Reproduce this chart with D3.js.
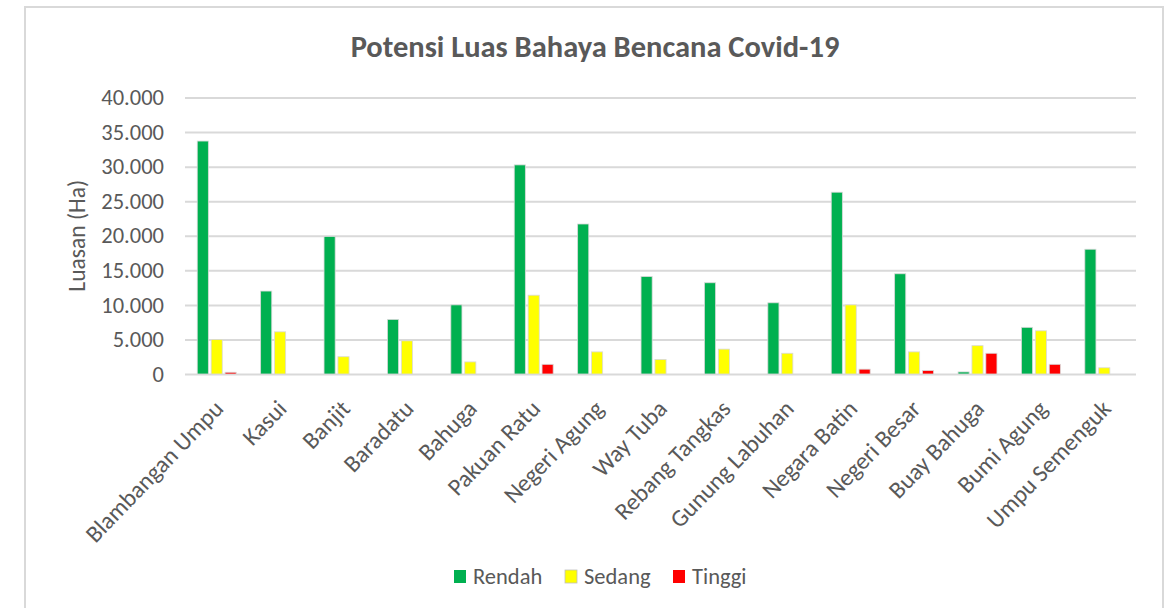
<!DOCTYPE html>
<html>
<head>
<meta charset="utf-8">
<script src="https://cdn.jsdelivr.net/npm/d3@7"></script>
<style>
  html, body { margin: 0; padding: 0; background: #ffffff; }
  svg { display: block; }
  text { font-family: Carlito, "Liberation Sans", Arial, sans-serif; fill: #595959; }
</style>
</head>
<body>
<svg id="chart" width="1170" height="608"></svg>
<script>
// Kecamatan (districts)
const categories = [
  "Blambangan Umpu", "Kasui", "Banjit", "Baradatu", "Bahuga", "Pakuan Ratu",
  "Negeri Agung", "Way Tuba", "Rebang Tangkas", "Gunung Labuhan", "Negara Batin",
  "Negeri Besar", "Buay Bahuga", "Bumi Agung", "Umpu Semenguk"
];

// Area per hazard class, in hectares
const rendah = [33700, 12000, 19900, 7900, 10000, 30250, 21700, 14100, 13200, 10300, 26300, 14500, 300, 6750, 18050];
const sedang = [5000, 6100, 2500, 4800, 1750, 11400, 3200, 2100, 3600, 3000, 10000, 3200, 4100, 6250, 900];
const tinggi = [250, 0, 0, 0, 0, 1400, 0, 0, 0, 0, 700, 500, 3000, 1400, 0];

const seriesNames = ["Rendah", "Sedang", "Tinggi"];
const seriesValues = [rendah, sedang, tinggi];
const seriesColors = ["#00B050", "#FFFF00", "#FF0000"];

const yTicks = [0, 5000, 10000, 15000, 20000, 25000, 30000, 35000, 40000];
const yTickLabels = ["0", "5.000", "10.000", "15.000", "20.000", "25.000", "30.000", "35.000", "40.000"];

const FONT = 'Carlito, "Liberation Sans", Arial, sans-serif';

const svg = d3.select("#chart");
const W = 1170, H = 608;
const plot = { left: 185, right: 1136, top: 97.5, bottom: 374 };

// chart area border
svg.append("path")
  .attr("d", `M25,${H + 2} L25,7 L1163,7 L1163,${H + 2}`)
  .attr("fill", "#ffffff")
  .attr("stroke", "#d9d9d9")
  .attr("stroke-width", 2);

// title
svg.append("text")
  .attr("x", 595)
  .attr("y", 57)
  .attr("text-anchor", "middle")
  .style("font-size", "30.5px")
  .style("font-weight", "bold")
  .text("Potensi Luas Bahaya Bencana Covid-19");

const x0 = d3.scaleBand().domain(categories).range([plot.left, plot.right]).paddingInner(0).paddingOuter(0);
const x1 = d3.scaleBand().domain(seriesNames).range([0, x0.bandwidth()]).paddingInner(0.2).paddingOuter(0.88);
const y = d3.scaleLinear().domain([0, 40000]).range([plot.bottom, plot.top]);

// gridlines
const grid = svg.append("g")
  .attr("transform", `translate(${plot.left},0)`)
  .call(d3.axisLeft(y).tickValues(yTicks).tickSize(-(plot.right - plot.left)).tickFormat(""));
grid.select(".domain").remove();
grid.selectAll(".tick line").attr("stroke", "#d9d9d9").attr("stroke-width", 2);

// y tick labels
const yAxis = svg.append("g")
  .attr("transform", `translate(${plot.left - 21},0)`)
  .call(d3.axisLeft(y).tickValues(yTicks).tickSize(0).tickPadding(0)
    .tickFormat((d, i) => yTickLabels[i]));
yAxis.select(".domain").remove();
yAxis.selectAll("text")
  .style("font-size", "22.5px")
  .style("font-family", FONT)
  .attr("fill", "#595959");

// y axis title
svg.append("text")
  .attr("transform", `translate(85,${(plot.top + plot.bottom) / 2}) rotate(-90)`)
  .attr("text-anchor", "middle")
  .style("font-size", "23.5px")
  .text("Luasan (Ha)");

// bars
const groups = svg.append("g").selectAll("g")
  .data(categories)
  .join("g")
  .attr("transform", d => `translate(${x0(d)},0)`);

groups.selectAll("rect")
  .data((d, i) => seriesNames.map((s, k) => ({ s, k, v: seriesValues[k][i] })).filter(e => e.v > 0))
  .join("rect")
  .attr("x", e => x1(e.s))
  .attr("width", x1.bandwidth())
  .attr("y", e => y(e.v))
  .attr("height", e => y(0) - y(e.v))
  .attr("fill", e => seriesColors[e.k])
  .attr("stroke", "#d9d9d9")
  .attr("stroke-width", 0.8);

// x category labels, rotated
const xAxis = svg.append("g")
  .attr("transform", `translate(0,${plot.bottom})`)
  .call(d3.axisBottom(x0).tickSize(0).tickPadding(0));
xAxis.select(".domain").remove();
xAxis.selectAll("text")
  .attr("y", 0)
  .attr("dy", 0)
  .attr("transform", "translate(8,36) rotate(-46)")
  .attr("text-anchor", "end")
  .style("font-size", "24px")
  .style("font-family", FONT)
  .attr("fill", "#595959");

// legend
const legendX = [454, 565, 673];
const legend = svg.append("g").selectAll("g")
  .data(seriesNames)
  .join("g")
  .attr("transform", (d, i) => `translate(${legendX[i]},570)`);
legend.append("rect")
  .attr("width", 12)
  .attr("height", 13)
  .attr("fill", (d, i) => seriesColors[i])
  .attr("stroke", (d, i) => i === 1 ? "#bfbfbf" : "none")
  .attr("stroke-width", 0.8);
legend.append("text")
  .attr("x", 19)
  .attr("y", 14)
  .style("font-size", "22.5px")
  .text(d => d);
</script>
</body>
</html>
